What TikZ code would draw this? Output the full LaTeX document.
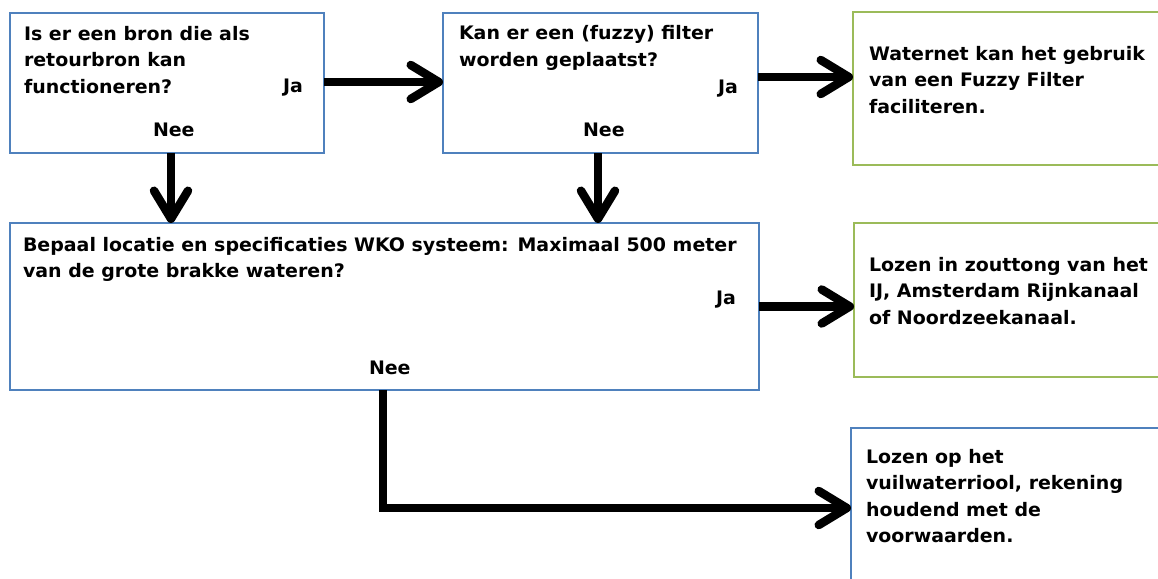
\documentclass[tikz,border=0pt]{standalone}
\usepackage{fontspec}
\newfontfamily\dfont{DejaVu Sans}[FakeStretch=1.02]
\usetikzlibrary{arrows.meta,calc}
\definecolor{boxblue}{HTML}{4F81BD}
\definecolor{boxgreen}{HTML}{9BBB59}
\begin{document}
\begin{tikzpicture}[x=1pt,y=-1pt,
  box/.style={draw,line width=2.8pt,fill=white,inner sep=0pt,outer sep=0pt,anchor=north west},
  bluebox/.style={box,draw=boxblue},
  greenbox/.style={box,draw=boxgreen},
  txt/.style={inner sep=0pt,outer sep=0pt,anchor=north west,align=left,font=\dfont\bfseries\fontsize{18.6}{26.5}\selectfont},
  lbl/.style={inner sep=0pt,outer sep=0pt,anchor=base west,font=\dfont\bfseries\fontsize{18.6}{26.5}\selectfont},
  arr/.style={line width=8.5pt,-{Straight Barb[length=28pt,width=34pt,round]}},
  conn/.style={line width=8pt},
]
\useasboundingbox (0,0) rectangle (1158,578);
\clip (0,0) rectangle (1158,578);
\fill[white] (0,0) rectangle (1158,578);
% boxes
\node[bluebox,minimum width=314pt,minimum height=140pt] (b1) at (10,13) {};
\node[bluebox,minimum width=315pt,minimum height=140pt] (b2) at (443,13) {};
\node[greenbox,minimum width=315pt,minimum height=153pt] (b3) at (853,12) {};
\node[bluebox,minimum width=749pt,minimum height=167pt] (b4) at (10,223) {};
\node[greenbox,minimum width=315pt,minimum height=154pt] (b5) at (854,223) {};
\node[bluebox,minimum width=315pt,minimum height=160pt] (b6) at (851,428) {};
% texts
\node[txt] (t1) at (24,25) {\rule{0pt}{15pt}Is er een bron die als\\retourbron kan\\functioneren?};
\node[lbl] (j1) at (283,92.5) {Ja};
\node[lbl] (n1) at (153,136.5) {Nee};
\node[txt] (t2) at (459,25) {\rule{0pt}{15pt}Kan er een (fuzzy) filter\\worden geplaatst?};
\node[lbl] (j2) at (718,93) {Ja};
\node[lbl] (n2) at (583,136.5) {Nee};
\node[txt] (t3) at (869,45) {\rule{0pt}{15pt}Waternet kan het gebruik\\van een Fuzzy Filter\\faciliteren.};
\node[txt] (t4) at (23,236) {\rule{0pt}{15pt}Bepaal locatie en specificaties WKO systeem: Maximaal 500 meter\\van de grote brakke wateren?};
\node[lbl] (j4) at (716,304.5) {Ja};
\node[lbl] (n4) at (369,374.5) {Nee};
\node[txt] (t5) at (869,256) {\rule{0pt}{15pt}Lozen in zouttong van het\\IJ, Amsterdam Rijnkanaal\\of Noordzeekanaal.};
\node[txt] (t6) at (866,448) {\rule{0pt}{15pt}Lozen op het\\vuilwaterriool, rekening\\houdend met de\\voorwaarden.};
% connectors
\coordinate (k1) at (171,0);
\coordinate (k2) at (598,0);
\coordinate (k4) at (383,0);
\coordinate (y12) at (0,82);
\coordinate (y23) at (0,77);
\coordinate (y6) at (0,508);
\draw[arr] (b1.east |- y12) -- (b2.west |- y12);
\draw[arr] (b2.east |- y23) -- (b3.west |- y23);
\draw[arr] (b1.south -| k1) -- (b4.north -| k1);
\draw[arr] (b2.south -| k2) -- (b4.north -| k2);
\draw[arr] (b4.east) -- (b5.west |- b4.east);
\coordinate (bend) at (k4 |- y6);
\draw[conn] (b4.south -| k4) -- (bend);
\draw[arr] ([xshift=-4pt]bend) -- (b6.west |- y6);
\end{tikzpicture}
\end{document}
